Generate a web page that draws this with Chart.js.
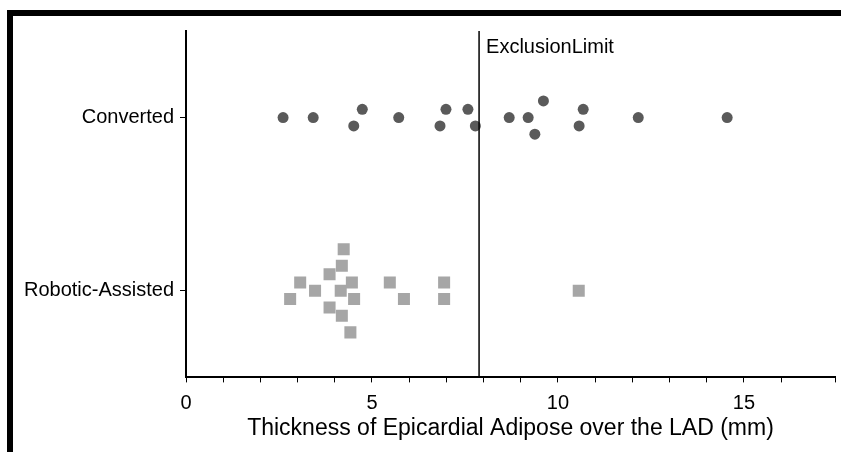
<!DOCTYPE html>
<html>
<head>
<meta charset="utf-8">
<script src="https://cdn.jsdelivr.net/npm/chart.js@4"></script>
<style>
  html, body { margin: 0; padding: 0; background: #fff; }
  #wrap { width: 841px; height: 452px; position: relative; }
</style>
</head>
<body>
<div id="wrap"><canvas id="chart" width="841" height="452"></canvas></div>
<script>
// categories, bottom to top
const groups = ["Robotic-Assisted", "Converted"];
const xTickLabels = [0, 5, 10, 15];
const exclusionLimit = 7.88;

// Converted (dark circles)
const convertedX = [2.61, 3.42, 4.51, 4.74, 5.72, 6.83, 6.99, 7.58, 7.78, 8.69, 9.2, 9.38, 9.61, 10.57, 10.68, 12.16, 14.55];
const convertedY = [2, 2, 1.952, 2.048, 2, 1.952, 2.048, 2.048, 1.952, 2, 2, 1.904, 2.096, 1.952, 2.048, 2, 2];

// Robotic-Assisted (light squares)
const roboticX = [4.24, 4.19, 3.86, 3.07, 4.46, 5.48, 6.94, 3.47, 4.16, 10.56, 2.80, 4.52, 5.86, 6.94, 3.86, 4.19, 4.42];
const roboticY = [1.24, 1.144, 1.096, 1.048, 1.048, 1.048, 1.048, 1, 1, 1, 0.952, 0.952, 0.952, 0.952, 0.904, 0.856, 0.76];

const toPoints = (xs, ys) => xs.map((x, i) => ({ x: x, y: ys[i] }));

const font = "'Liberation Sans', Arial, Helvetica, sans-serif";

// thick frame on the top and left
const framePlugin = {
  id: "frame",
  beforeDraw(chart) {
    const ctx = chart.ctx;
    ctx.save();
    ctx.fillStyle = "#000";
    ctx.fillRect(7, 10, chart.width - 7, 6);
    ctx.fillRect(7, 10, 6, chart.height - 10);
    ctx.restore();
  }
};

// vertical exclusion line with its label
const limitPlugin = {
  id: "limit",
  afterDatasetsDraw(chart) {
    const ctx = chart.ctx;
    const x = chart.scales.x.getPixelForValue(exclusionLimit);
    const area = chart.chartArea;
    ctx.save();
    ctx.strokeStyle = "#000";
    ctx.lineWidth = 1.5;
    ctx.beginPath();
    ctx.moveTo(x, area.top);
    ctx.lineTo(x, area.bottom);
    ctx.stroke();
    ctx.fillStyle = "#000";
    ctx.font = "20px " + font;
    ctx.textBaseline = "middle";
    ctx.fillText("ExclusionLimit", x + 7, 47);
    ctx.restore();
  }
};

new Chart(document.getElementById("chart"), {
  type: "scatter",
  data: {
    datasets: [
      {
        label: groups[1],
        data: toPoints(convertedX, convertedY),
        pointStyle: "circle",
        pointRadius: 5.5,
        pointHoverRadius: 5.5,
        backgroundColor: "#5a5a5a",
        borderWidth: 0
      },
      {
        label: groups[0],
        data: toPoints(roboticX, roboticY),
        pointStyle: "rect",
        pointRadius: 8.5,
        pointHoverRadius: 8.5,
        backgroundColor: "#a6a6a6",
        borderWidth: 0
      }
    ]
  },
  options: {
    responsive: false,
    animation: false,
    layout: { autoPadding: false, padding: { left: 0, right: 6, top: 31, bottom: 10 } },
    plugins: {
      legend: { display: false },
      tooltip: { enabled: false }
    },
    scales: {
      x: {
        type: "linear",
        min: 0,
        max: 17.45,
        border: { display: true, color: "#000", width: 2 },
        grid: { drawOnChartArea: false, drawTicks: true, tickLength: 5, tickColor: "#000", tickWidth: 1 },
        ticks: {
          stepSize: 1,
          autoSkip: false,
          maxRotation: 0,
          color: "#000",
          padding: 9,
          font: { family: font, size: 20 },
          callback: (v) => (xTickLabels.includes(v) ? String(v) : "")
        },
        title: {
          display: true,
          text: "Thickness of Epicardial Adipose over the LAD (mm)",
          color: "#000",
          font: { family: font, size: 23 },
          padding: { top: -10, bottom: 0 }
        },
        afterFit: (scale) => { scale.paddingLeft = 0; scale.paddingRight = 0; }
      },
      y: {
        type: "linear",
        min: 0.5,
        max: 2.5,
        border: { display: true, color: "#000", width: 2 },
        grid: { drawOnChartArea: false, drawTicks: true, tickLength: 6, tickColor: "#000", tickWidth: 1 },
        afterBuildTicks: (scale) => {
          scale.ticks = groups.map((g, i) => ({ value: i + 1 }));
        },
        ticks: {
          color: "#000",
          padding: 6,
          font: { family: font, size: 20 },
          callback: (v) => groups[v - 1] || ""
        },
        afterFit: (scale) => { scale.width = 186; }
      }
    }
  },
  plugins: [framePlugin, limitPlugin]
});
</script>
</body>
</html>
